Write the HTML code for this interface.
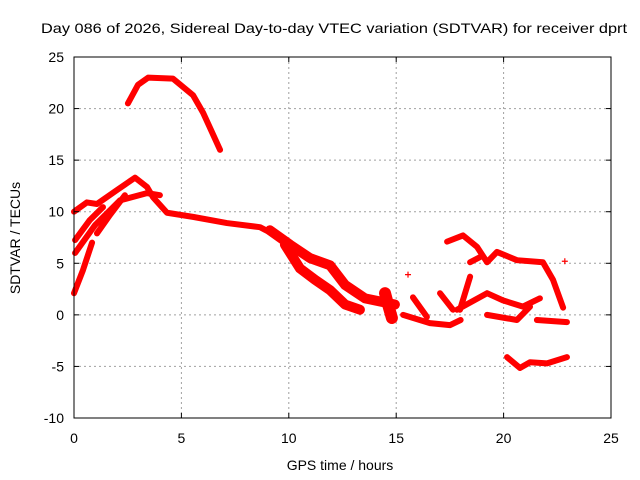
<!DOCTYPE html>
<html><head><meta charset="utf-8"><style>
body{margin:0;background:#fff}
svg{display:block;font-family:"Liberation Sans",sans-serif}
</style></head><body>
<svg id="chart" width="640" height="480">
<rect width="640" height="480" fill="#fff"/>
<text x="334" y="33" font-size="14" text-anchor="middle" textLength="586" lengthAdjust="spacingAndGlyphs">Day 086 of 2026, Sidereal Day-to-day VTEC variation (SDTVAR) for receiver dprt</text>
<g id="grid"></g>
<g id="marks"></g>
<rect x="74" y="57" width="537" height="361" fill="none" stroke="#000" stroke-width="1"/>
<g id="ticks"></g>
<text x="340" y="470" font-size="14" text-anchor="middle">GPS time / hours</text>
<text transform="translate(20,238) rotate(-90)" font-size="14" text-anchor="middle">SDTVAR / TECUs</text>
</svg>
<script>
const xTicks=[0,5,10,15,20,25];
const yTicks=[-10,-5,0,5,10,15,20,25];
const arcTop=[[2.51,20.5],[2.98,22.3],[3.45,23.0],[4.61,22.9],[5.54,21.3],[6.01,19.6],[6.8,16.0]];
const mainBand=[[0,10.0],[0.6,10.9],[1.07,10.75],[2.0,12.1],[2.84,13.3],[3.4,12.4],[3.68,11.4],[4.33,9.9],[5.54,9.5],[7.12,8.9],[8.66,8.5],[9.12,8.0]];
const plateau=[[2.14,11.1],[3.4,11.8],[4.0,11.6]];
const strandA=[[0,2.1],[0.42,4.35],[0.84,7.0]];
const strandB=[[0.05,6.0],[0.98,8.7],[2.14,11.1]];
const strandC=[[0.05,7.25],[0.74,9.2],[1.35,10.45]];
const strandD=[[1.07,7.9],[1.68,9.7],[2.37,11.6]];
const declineUpper=[[9.12,8.2],[10.06,6.8],[10.99,5.5],[11.92,4.8],[12.62,2.9],[13.55,1.6],[14.94,1.0]];
const declineLower=[[9.82,6.8],[10.52,4.5],[11.22,3.4],[11.92,2.4],[12.62,1.0],[13.31,0.5]];
const cluster=[[14.48,2.1],[14.62,1.0],[14.8,-0.3]];
const eveningBottom=[[15.32,0],[16.57,-0.8],[17.5,-1.0],[18.0,-0.5]];
const rise1=[[15.78,1.7],[16.43,-0.2]];
const rise2=[[17.04,2.1],[17.64,0.5]];
const rise3=[[18.44,3.7],[17.97,0.5]];
const wave=[[17.83,0.5],[19.23,2.1],[19.97,1.4],[20.9,0.8],[21.69,1.6]];
const lowerWave=[[19.23,0],[20.62,-0.5],[21.23,0.8]];
const upperRight=[[17.37,7.1],[18.11,7.7],[18.76,6.6],[19.23,5.1],[19.69,6.1],[20.62,5.3],[21.83,5.1],[22.3,3.4],[22.77,0.7]];
const branch=[[18.44,5.1],[18.9,5.6]];
const rightSmall=[[21.55,-0.5],[22.95,-0.7]];
const bottomNeg=[[20.16,-4.1],[20.76,-5.15],[21.23,-4.6],[22.02,-4.7],[22.95,-4.1]];
const singles=[[15.55,3.9],[22.85,5.2]];
const series=[arcTop,mainBand,plateau,strandA,strandB,strandC,strandD,declineUpper,declineLower,cluster,eveningBottom,rise1,rise2,rise3,wave,lowerWave,upperRight,branch,rightSmall,bottomNeg];
const seriesNames=['arc-top','main-band','plateau','strand-a','strand-b','strand-c','strand-d','decline-upper','decline-lower','cluster','evening-bottom','rise-1','rise-2','rise-3','wave','lower-wave','upper-right','branch','right-small','bottom-neg'];

const NS='http://www.w3.org/2000/svg';
const X=h=>74+h*537/25;
const Y=v=>57+(25-v)*361/35;
function mk(t,a,p){const e=document.createElementNS(NS,t);for(const k in a)e.setAttribute(k,a[k]);p.appendChild(e);return e;}
const grid=document.getElementById('grid'),ticks=document.getElementById('ticks'),marks=document.getElementById('marks');
xTicks.forEach(t=>{
  if(t>0&&t<25){const l=mk('line',{x1:X(t),x2:X(t),y1:57,y2:418,stroke:'#a0a0a0','stroke-dasharray':'2,3'},grid);
  
  }
  mk('line',{x1:X(t),x2:X(t),y1:418,y2:413,stroke:'#000'},ticks);
  mk('line',{x1:X(t),x2:X(t),y1:57,y2:62,stroke:'#000'},ticks);
  const tx=mk('text',{x:X(t),y:443,'font-size':14,'text-anchor':'middle'},ticks);tx.textContent=t;
  
  
});
yTicks.forEach(t=>{
  if(t>-10&&t<25){const l=mk('line',{x1:74,x2:611,y1:Y(t),y2:Y(t),stroke:'#a0a0a0','stroke-dasharray':'2,3'},grid);
  
  }
  mk('line',{x1:74,x2:79,y1:Y(t),y2:Y(t),stroke:'#000'},ticks);
  mk('line',{x1:611,x2:606,y1:Y(t),y2:Y(t),stroke:'#000'},ticks);
  const tx=mk('text',{x:64,y:Y(t)+5,'font-size':14,'text-anchor':'end'},ticks);tx.textContent=t;
  
  
});
series.forEach((s,i)=>{
  const w=(i===7||i===8)?10:(i===9?12:6);
  const p=mk('polyline',{points:s.map(d=>X(d[0])+','+Y(d[1])).join(' '),fill:'none',stroke:'#ff0000','stroke-width':w,'stroke-linejoin':'round','stroke-linecap':'round'},marks);
  
  
});
singles.forEach(d=>{
  const x=X(d[0]),y=Y(d[1]);
  const g=mk('path',{d:`M${x-3},${y}H${x+3}M${x},${y-3}V${y+3}`,stroke:'#ff0000','stroke-width':1.2},marks);
  
  
});
</script>
</body></html>
